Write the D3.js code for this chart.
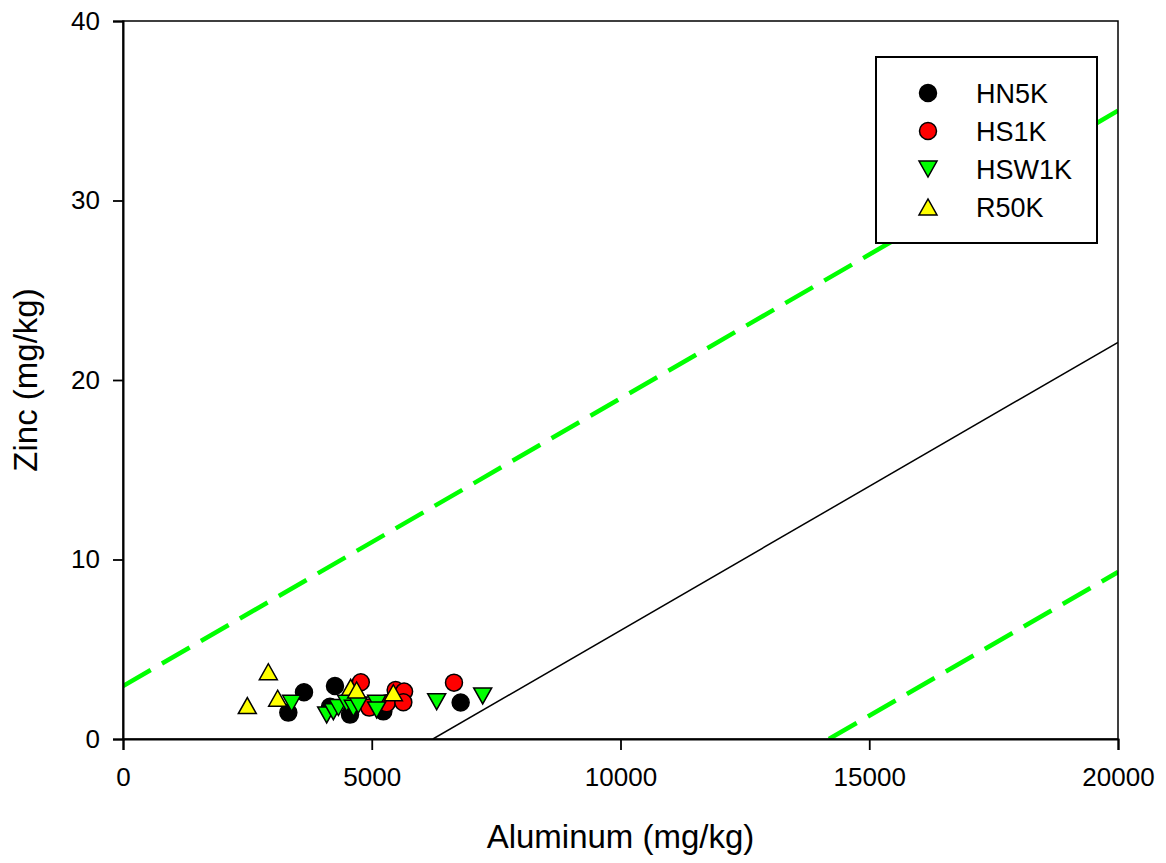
<!DOCTYPE html>
<html>
<head>
<meta charset="utf-8">
<script src="https://cdn.jsdelivr.net/npm/d3@7"></script>
<style>
html,body{margin:0;padding:0;background:#fff;}
svg{display:block;font-family:"Liberation Sans",Arial,sans-serif;}
</style>
</head>
<body>
<svg id="chart" width="1166" height="863"></svg>
<script>
// ---- data ----
const xTicks = [0, 5000, 10000, 15000, 20000];
const yTicks = [0, 10, 20, 30, 40];
const seriesNames = ["HN5K", "HS1K", "HSW1K", "R50K"];
const hn5k = [[3323,1.47],[3638,2.60],[4261,2.95],[4161,1.80],[4563,1.36],[5233,1.54],[6787,2.03]];
const hs1k = [[4780,3.16],[4950,1.75],[5300,1.99],[5480,2.73],[5650,2.64],[5635,2.05],[6653,3.14]];
const hsw1k = [[3390,1.99],[4094,1.34],[4228,1.52],[4330,1.75],[4496,1.99],[4630,1.71],[4730,1.89],[5099,1.99],[5099,1.62],[6305,2.08],[7230,2.40]];
const r50k = [[2499,1.86],[2921,3.75],[3109,2.27],[4576,2.88],[4696,2.73],[5434,2.58]];
const solidLine = [[6230,0],[20000,22.1]];
const upperDashed = [[0,2.95],[20000,35]];
const lowerDashed = [[14190,0],[20000,9.3]];

const svg = d3.select("#chart");
const L = 123, R = 1118, T = 21, B = 739;
const x = d3.scaleLinear().domain([0,20000]).range([L,R]);
const y = d3.scaleLinear().domain([0,40]).range([B,T]);

// clip
svg.append("defs").append("clipPath").attr("id","clip")
  .append("rect").attr("x",L).attr("y",T).attr("width",R-L).attr("height",B-T);

const line = d3.line().x(d=>x(d[0])).y(d=>y(d[1]));
const g = svg.append("g").attr("clip-path","url(#clip)");
g.append("path").datum(upperDashed).attr("d",line)
  .attr("fill","none").attr("stroke","#00ff00").attr("stroke-width",4.5).attr("stroke-dasharray","32,13");
g.append("path").datum(lowerDashed).attr("d",line)
  .attr("fill","none").attr("stroke","#00ff00").attr("stroke-width",4.5).attr("stroke-dasharray","32,13");
g.append("path").datum(solidLine).attr("d",line)
  .attr("fill","none").attr("stroke","#000").attr("stroke-width",1.5);

// frame
svg.append("rect").attr("x",L).attr("y",T).attr("width",R-L).attr("height",B-T)
  .attr("fill","none").attr("stroke","#000").attr("stroke-width",1.5);

// axes
const xAxis = d3.axisBottom(x).tickValues(xTicks).tickSize(11).tickPadding(18).tickFormat(d3.format("d"));
const yAxis = d3.axisLeft(y).tickValues(yTicks).tickSize(10).tickPadding(13).tickFormat(d3.format("d"));
const xa = svg.append("g").attr("transform",`translate(0,${B})`).call(xAxis);
const ya = svg.append("g").attr("transform",`translate(${L},0)`).call(yAxis);
[xa,ya].forEach(a=>{
  a.select(".domain").attr("stroke","#000").attr("stroke-width",2);
  a.selectAll(".tick line").attr("stroke","#000").attr("stroke-width",1.8);
  a.selectAll(".tick text").attr("fill","#000").style("font-size","26px").style("font-family","'Liberation Sans',Arial,sans-serif");
});

// titles
svg.append("text").attr("x",(L+R)/2).attr("y",848).attr("text-anchor","middle")
  .style("font-size","33px").text("Aluminum (mg/kg)");
svg.append("text").attr("transform",`translate(37,${(T+B)/2}) rotate(-90)`).attr("text-anchor","middle")
  .style("font-size","33px").text("Zinc (mg/kg)");

// markers
const styles = {
  HN5K: {fill:"#000", shape:"circle"},
  HS1K: {fill:"#ff0000", shape:"circle"},
  HSW1K: {fill:"#00ff00", shape:"down"},
  R50K: {fill:"#ffff00", shape:"up"}
};
function markerPath(shape){
  const w = 9, h = 8;
  if(shape==="down") return `M${-w},${-h}L${w},${-h}L0,${h}Z`;
  if(shape==="up") return `M${-w},${h}L${w},${h}L0,${-h}Z`;
  return null;
}
function drawMarker(sel, shape, fill){
  if(shape==="circle"){
    sel.append("circle").attr("r",8.5).attr("fill",fill).attr("stroke","#000").attr("stroke-width",1.5);
  } else {
    sel.append("path").attr("d",markerPath(shape)).attr("fill",fill).attr("stroke","#000").attr("stroke-width",1.5).attr("stroke-linejoin","miter");
  }
}
const seriesData = [hn5k, hs1k, hsw1k, r50k];
seriesNames.forEach((name,i)=>{
  const st = styles[name];
  const grp = svg.append("g");
  grp.selectAll("g").data(seriesData[i]).enter().append("g")
    .attr("transform",d=>`translate(${x(d[0])},${y(d[1])})`)
    .each(function(){ drawMarker(d3.select(this), st.shape, st.fill); });
});

// legend
const lg = svg.append("g");
lg.append("rect").attr("x",876).attr("y",57).attr("width",221).attr("height",186)
  .attr("fill","#fff").attr("stroke","#000").attr("stroke-width",2);
const rowY = d3.scalePoint().domain(seriesNames).range([93,207]);
seriesNames.forEach(name=>{
  const st = styles[name];
  const row = lg.append("g").attr("transform",`translate(928,${rowY(name)})`);
  drawMarker(row, st.shape, st.fill);
  lg.append("text").attr("x",976).attr("y",rowY(name)).attr("dy","0.36em")
    .style("font-size","27px").text(name);
});
</script>
</body>
</html>
